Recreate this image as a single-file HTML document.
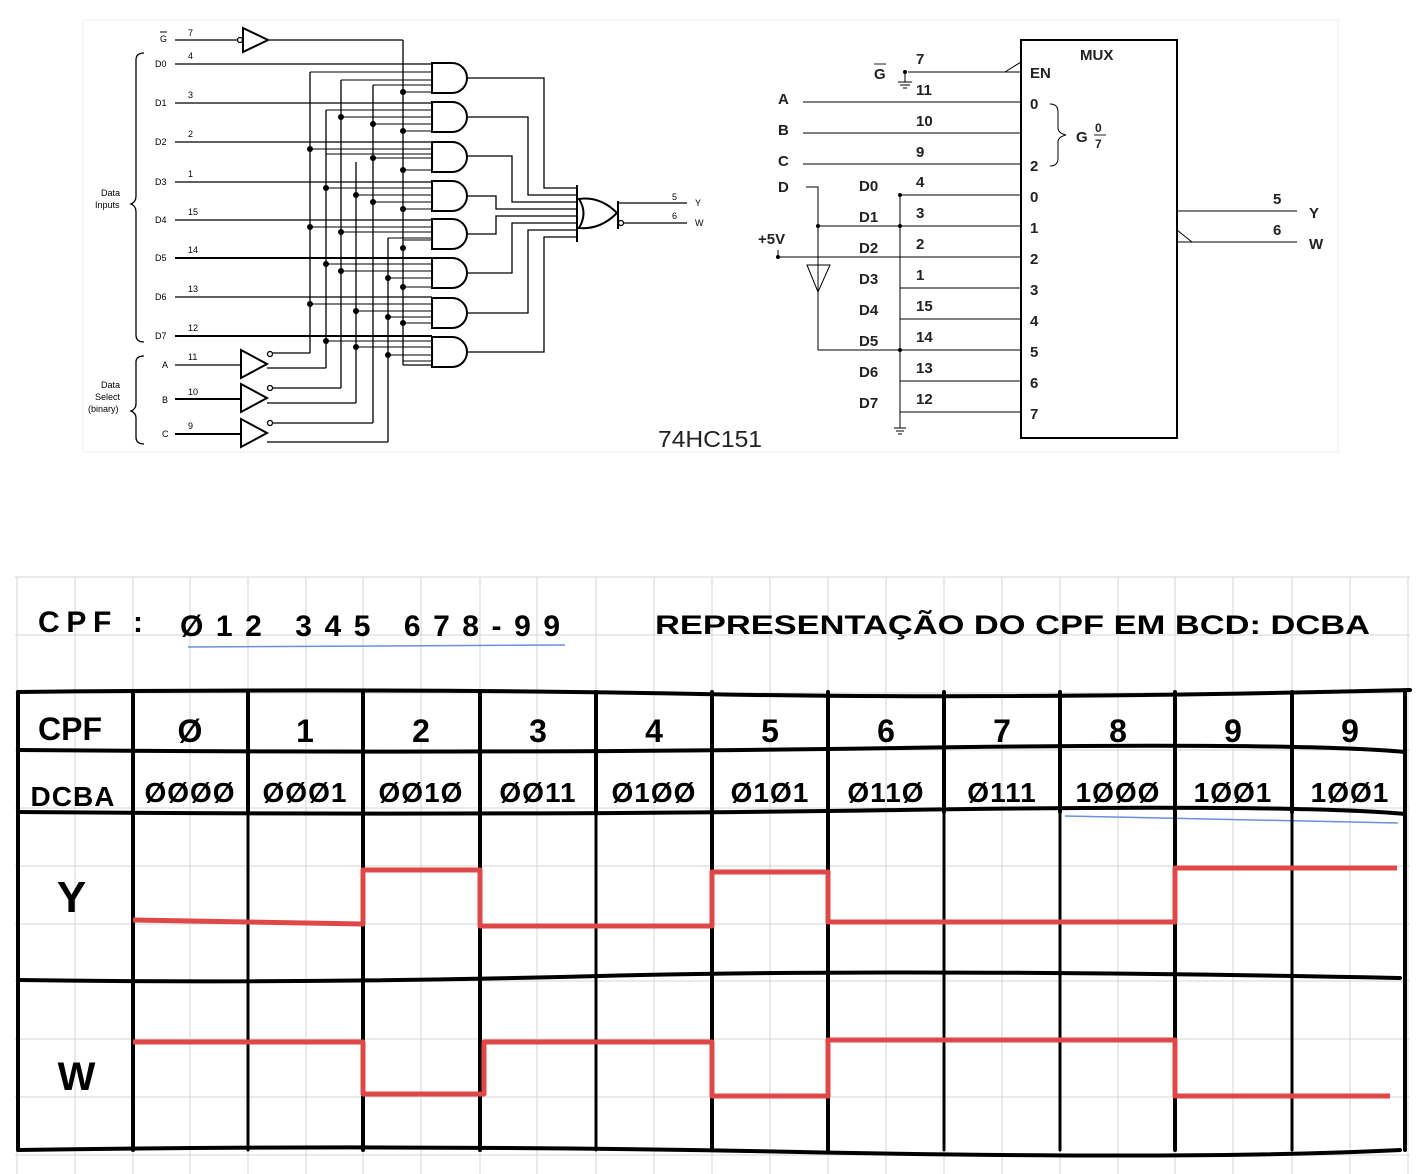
<!DOCTYPE html>
<html><head><meta charset="utf-8"><style>
html,body{margin:0;padding:0;background:#fff;}
svg{display:block}
.t{font-family:"Liberation Sans",sans-serif;}
.h{font-family:"Liberation Sans",sans-serif;font-weight:bold;}
</style></head><body>
<svg width="1428" height="1174" viewBox="0 0 1428 1174" xmlns="http://www.w3.org/2000/svg">
<rect x="0" y="0" width="1428" height="1174" fill="#fff"/>
<rect x="83" y="20" width="1255" height="432" fill="#fff" stroke="#eee"/>
<!-- LEFT SCHEMATIC -->
<g stroke="#000" stroke-width="1.3" fill="none">
 <line x1="175" y1="40" x2="238" y2="40"/><circle cx="240" cy="40" r="2.5"/>
 <path d="M243 28 L268 40 L243 52 Z" stroke-width="2"/>
 <line x1="268" y1="40" x2="403" y2="40"/>
 <line x1="175" y1="64" x2="432" y2="64"/>
 <line x1="175" y1="103" x2="432" y2="103"/>
 <line x1="175" y1="142" x2="432" y2="142"/>
 <line x1="175" y1="182" x2="432" y2="182"/>
 <line x1="175" y1="220" x2="432" y2="220"/>
 <line x1="175" y1="258" x2="432" y2="258" stroke-width="2"/>
 <line x1="175" y1="297" x2="432" y2="297"/>
 <line x1="175" y1="336" x2="432" y2="336" stroke-width="2"/>
 <line x1="310" y1="72" x2="310" y2="353"/>
 <line x1="326" y1="110" x2="326" y2="368"/>
 <line x1="341" y1="80" x2="341" y2="388"/>
 <line x1="356" y1="162" x2="356" y2="403"/>
 <line x1="373" y1="85" x2="373" y2="423"/>
 <line x1="388" y1="238" x2="388" y2="442"/>
 <line x1="403" y1="40" x2="403" y2="365"/>
 <line x1="403" y1="365" x2="432" y2="365"/>
 <line x1="175" y1="365" x2="241" y2="365"/>
 <path d="M241 350 L267 364 L241 378 Z" stroke-width="2"/><circle cx="270" cy="354" r="2.5"/>
 <line x1="272" y1="353" x2="310" y2="353"/><line x1="267" y1="368" x2="326" y2="368"/>
 <line x1="175" y1="399" x2="241" y2="399" stroke-width="2"/>
 <path d="M241 384 L267 398 L241 412 Z" stroke-width="2"/><circle cx="270" cy="388" r="2.5"/>
 <line x1="272" y1="388" x2="341" y2="388"/><line x1="267" y1="403" x2="356" y2="403"/>
 <line x1="175" y1="434" x2="241" y2="434" stroke-width="2"/>
 <path d="M241 419 L267 433 L241 447 Z" stroke-width="2"/><circle cx="270" cy="423" r="2.5"/>
 <line x1="272" y1="423" x2="373" y2="423"/><line x1="267" y1="442" x2="388" y2="442"/>
 <g stroke-width="1">
 <path d="M310 72H432M341 80H432M373 85H432M403 92H432"/>
 <path d="M326 110H432M341 117H432M373 124H432M403 131H432"/>
 <path d="M310 149H432M326 154H432M373 158H432M403 170H432"/>
 <path d="M326 188H432M356 195H432M373 202H432M403 209H432"/>
 <path d="M310 227H432M341 232H432M388 238H432M403 240H432"/>
 <path d="M326 264H432M341 271H432M388 278H432M403 287H432"/>
 <path d="M310 304H432M356 311H432M388 317H432M403 323H432"/>
 <path d="M326 341H432M356 347H432M388 355H432M403 361H432"/>
 </g>
 <g stroke-width="2">
 <path d="M432 63H452A15 15 0 0 1 452 93H432Z"/>
 <path d="M432 102H452A15 15 0 0 1 452 132H432Z"/>
 <path d="M432 142H452A15 15 0 0 1 452 172H432Z"/>
 <path d="M432 181H452A15 15 0 0 1 452 211H432Z"/>
 <path d="M432 219H452A15 15 0 0 1 452 249H432Z"/>
 <path d="M432 258H452A15 15 0 0 1 452 288H432Z"/>
 <path d="M432 298H452A15 15 0 0 1 452 328H432Z"/>
 <path d="M432 337H452A15 15 0 0 1 452 367H432Z"/>
 </g>
 <path d="M467 78H544V188H577"/>
 <path d="M467 117H528V195H577"/>
 <path d="M467 156H512V202H577"/>
 <path d="M467 196H496V209H577"/>
 <path d="M467 234H496V216H577"/>
 <path d="M467 273H512V223H577"/>
 <path d="M467 313H528V230H577"/>
 <path d="M467 352H544V237H577"/>
 <line x1="577" y1="185" x2="577" y2="242" stroke-width="2"/>
 <path d="M579 199Q600 196 617 213Q600 230 579 228Q588 213 579 199Z" stroke-width="2"/>
 <line x1="618" y1="201" x2="618" y2="229" stroke-width="2"/>
 <line x1="618" y1="203" x2="687" y2="203"/>
 <circle cx="621" cy="223" r="2.5"/><line x1="624" y1="223" x2="687" y2="223"/>
 <path d="M144 53Q136 53 136 60V196Q136 202 131 204Q136 206 136 212V335Q136 342 144 342" />
 <path d="M144 356Q136 356 136 362V404Q136 409 131 411Q136 413 136 418V437Q136 444 144 444"/>
</g>
<g fill="#000">
 <circle cx="403" cy="92" r="3"/><circle cx="341" cy="117" r="3"/><circle cx="373" cy="124" r="3"/><circle cx="403" cy="131" r="3"/>
 <circle cx="310" cy="149" r="3"/><circle cx="373" cy="158" r="3"/><circle cx="403" cy="170" r="3"/>
 <circle cx="326" cy="188" r="3"/><circle cx="356" cy="195" r="3"/><circle cx="373" cy="202" r="3"/><circle cx="403" cy="209" r="3"/>
 <circle cx="310" cy="227" r="3"/><circle cx="341" cy="232" r="3"/><circle cx="403" cy="248" r="3"/>
 <circle cx="326" cy="264" r="3"/><circle cx="341" cy="271" r="3"/><circle cx="388" cy="278" r="3"/><circle cx="403" cy="287" r="3"/>
 <circle cx="310" cy="304" r="3"/><circle cx="356" cy="311" r="3"/><circle cx="388" cy="317" r="3"/><circle cx="403" cy="323" r="3"/>
 <circle cx="326" cy="341" r="3"/><circle cx="356" cy="347" r="3"/><circle cx="388" cy="355" r="3"/>
</g>
<g class="t" font-size="9" fill="#000">
 <text x="160" y="42">G</text><line x1="160" y1="32" x2="167" y2="32" stroke="#000"/>
 <text x="188" y="36">7</text>
 <text x="155" y="67">D0</text><text x="188" y="59">4</text>
 <text x="155" y="106">D1</text><text x="188" y="98">3</text>
 <text x="155" y="145">D2</text><text x="188" y="137">2</text>
 <text x="155" y="185">D3</text><text x="188" y="177">1</text>
 <text x="155" y="223">D4</text><text x="188" y="215">15</text>
 <text x="155" y="261">D5</text><text x="188" y="253">14</text>
 <text x="155" y="300">D6</text><text x="188" y="292">13</text>
 <text x="155" y="339">D7</text><text x="188" y="331">12</text>
 <text x="162" y="368">A</text><text x="188" y="360">11</text>
 <text x="162" y="403">B</text><text x="188" y="395">10</text>
 <text x="162" y="437">C</text><text x="188" y="429">9</text>
 <text x="101" y="196">Data</text><text x="95" y="208">Inputs</text>
 <text x="101" y="388">Data</text><text x="95" y="400">Select</text><text x="88" y="412">(binary)</text>
 <text x="672" y="200">5</text><text x="695" y="206">Y</text>
 <text x="672" y="219">6</text><text x="695" y="226">W</text>
</g>
<text x="658" y="447" class="t" font-size="23" fill="#222" textLength="104" lengthAdjust="spacingAndGlyphs">74HC151</text>
<!-- RIGHT MUX -->
<g stroke="#000" stroke-width="1" fill="none">
 <rect x="1021" y="40" width="156" height="398" stroke-width="2"/>
 <path d="M908 72H1021M1005 72L1021 62V72"/>
 <path d="M905 72V82M898 82H912M900 85H910M903 88H907"/>
 <line x1="803" y1="102" x2="1021" y2="102"/>
 <line x1="803" y1="133" x2="1021" y2="133"/>
 <line x1="803" y1="164" x2="1021" y2="164"/>
 <path d="M806 187H818V350H898"/>
 <line x1="900" y1="195" x2="900" y2="428"/>
 <path d="M894 428H906M896 431H904M898 434H902"/>
 <path d="M900 195H1021M900 226H1021M900 257H1021M900 288H1021M900 319H1021M900 350H1021M900 381H1021M900 412H1021"/>
 <path d="M818 226H900"/>
 <path d="M778 250V257H900"/>
 <path d="M807 265H830L818 292Z"/>
 <line x1="818" y1="292" x2="818" y2="298"/>
 <path d="M1177 211H1297M1177 242H1297M1177 230L1192 242"/>
 <path d="M1050 104Q1058 104 1058 112V128Q1058 133 1066 135Q1058 137 1058 142V158Q1058 166 1050 166"/>
</g>
<g fill="#000"><circle cx="818" cy="226" r="2"/><circle cx="900" cy="226" r="2"/><circle cx="778" cy="257" r="2"/><circle cx="900" cy="195" r="2"/><circle cx="900" cy="350" r="2"/><circle cx="905" cy="72" r="2"/></g>
<g class="h" font-size="15" fill="#222">
 <text x="1080" y="60">MUX</text><text x="1030" y="78">EN</text>
 <text x="1030" y="109">0</text><text x="1030" y="171">2</text>
 <text x="1076" y="142">G</text><text x="1095" y="132" font-size="12">0</text><line x1="1094" y1="135" x2="1106" y2="135" stroke="#222"/><text x="1095" y="148" font-size="12">7</text>
 <text x="1030" y="202">0</text><text x="1030" y="233">1</text><text x="1030" y="264">2</text><text x="1030" y="295">3</text><text x="1030" y="326">4</text><text x="1030" y="357">5</text><text x="1030" y="388">6</text><text x="1030" y="419">7</text>
 <text x="874" y="79">G</text><line x1="874" y1="64" x2="886" y2="64" stroke="#222"/>
 <text x="916" y="64">7</text><text x="916" y="95">11</text><text x="916" y="126">10</text><text x="916" y="157">9</text>
 <text x="916" y="187">4</text><text x="916" y="218">3</text><text x="916" y="249">2</text><text x="916" y="280">1</text><text x="916" y="311">15</text><text x="916" y="342">14</text><text x="916" y="373">13</text><text x="916" y="404">12</text>
 <text x="778" y="104">A</text><text x="778" y="135">B</text><text x="778" y="166">C</text><text x="778" y="192">D</text>
 <text x="758" y="244">+5V</text>
 <text x="859" y="191">D0</text><text x="859" y="222">D1</text><text x="859" y="253">D2</text><text x="859" y="284">D3</text><text x="859" y="315">D4</text><text x="859" y="346">D5</text><text x="859" y="377">D6</text><text x="859" y="408">D7</text>
 <text x="1273" y="204">5</text><text x="1273" y="235">6</text><text x="1309" y="218">Y</text><text x="1309" y="249">W</text>
</g>
<!-- GRID PAPER -->
<g stroke="#d4d4d4" stroke-width="1">
 <path d="M17 577V1174M75 577V1174M133 577V1174M190 577V1174M248 577V1174M306 577V1174M363 577V1174M421 577V1174M480 577V1174M537 577V1174M596 577V1174M654 577V1174M712 577V1174M770 577V1174M828 577V1174M886 577V1174M944 577V1174M1002 577V1174M1060 577V1174M1118 577V1174M1175 577V1174M1233 577V1174M1292 577V1174M1350 577V1174M1408 577V1174"/>
 <path d="M15 577H1410M15 635H1410M15 693H1410M15 750H1410M15 808H1410M15 866H1410M15 924H1410M15 981H1410M15 1039H1410M15 1097H1410M15 1155H1410"/>
</g>
<g class="h" fill="#000" font-size="30">
 <text x="38" y="632" textLength="105" lengthAdjust="spacing">CPF :</text>
 <text x="180" y="636" textLength="380" lengthAdjust="spacing">Ø12 345 678-99</text>
 <text x="655" y="634" font-size="27" textLength="715" lengthAdjust="spacingAndGlyphs">REPRESENTAÇÃO DO CPF EM BCD: DCBA</text>
</g>
<path d="M188 647L565 645" stroke="#6d8fe0" stroke-width="1.5"/>
<path d="M1065 816L1398 823" stroke="#6d8fe0" stroke-width="1.5"/>
<!-- TABLE -->
<g stroke="#000" stroke-width="4" fill="none" stroke-linecap="round">
 <path d="M18 692Q400 688 700 694T1410 690"/>
 <path d="M18 750Q500 754 900 748T1405 752"/>
 <path d="M18 812Q500 816 900 810T1405 814"/>
 <path d="M18 980Q300 984 600 976T1400 978"/>
 <path d="M18 1150Q400 1144 800 1152T1400 1150"/>
 <path d="M18 692V1150M133 692V1150M248 692V812M363 692V1150M480 692V1150M596 692V812M712 692V1150M828 692V1150M944 692V812M1060 692V812M1175 692V1150M1292 692V812M1405 692V1150"/>
 <path d="M248 812V1150M596 812V1150M944 812V1150M1060 812V1150M1292 812V1150" stroke-width="3"/>
</g>
<g class="h" fill="#000" font-size="32" text-anchor="middle">
 <text x="70" y="740">CPF</text>
 <text x="190" y="742">Ø</text><text x="305" y="742">1</text><text x="421" y="742">2</text><text x="538" y="742">3</text><text x="654" y="742">4</text><text x="770" y="742">5</text><text x="886" y="742">6</text><text x="1002" y="742">7</text><text x="1118" y="742">8</text><text x="1233" y="742">9</text><text x="1350" y="742">9</text>
</g>
<g class="h" fill="#000" font-size="28" text-anchor="middle" letter-spacing="1">
 <text x="73" y="806">DCBA</text>
 <text x="190" y="802">ØØØØ</text><text x="305" y="802">ØØØ1</text><text x="421" y="802">ØØ1Ø</text><text x="538" y="802">ØØ11</text><text x="654" y="802">Ø1ØØ</text><text x="770" y="802">Ø1Ø1</text><text x="886" y="802">Ø11Ø</text><text x="1002" y="802">Ø111</text><text x="1118" y="802">1ØØØ</text><text x="1233" y="802">1ØØ1</text><text x="1350" y="802">1ØØ1</text>
 <text x="72" y="912" font-size="44">Y</text>
 <text x="77" y="1090" font-size="40">W</text>
</g>
<g stroke="#e04848" stroke-width="5" fill="none" stroke-linejoin="round">
 <path d="M133 920L363 924V870H480V926H712V872H828V922H1175V868H1397"/>
 <path d="M133 1042H363V1094H484V1042H712V1096H828V1040H1175V1096H1390"/>
</g>
</svg>
</body></html>
